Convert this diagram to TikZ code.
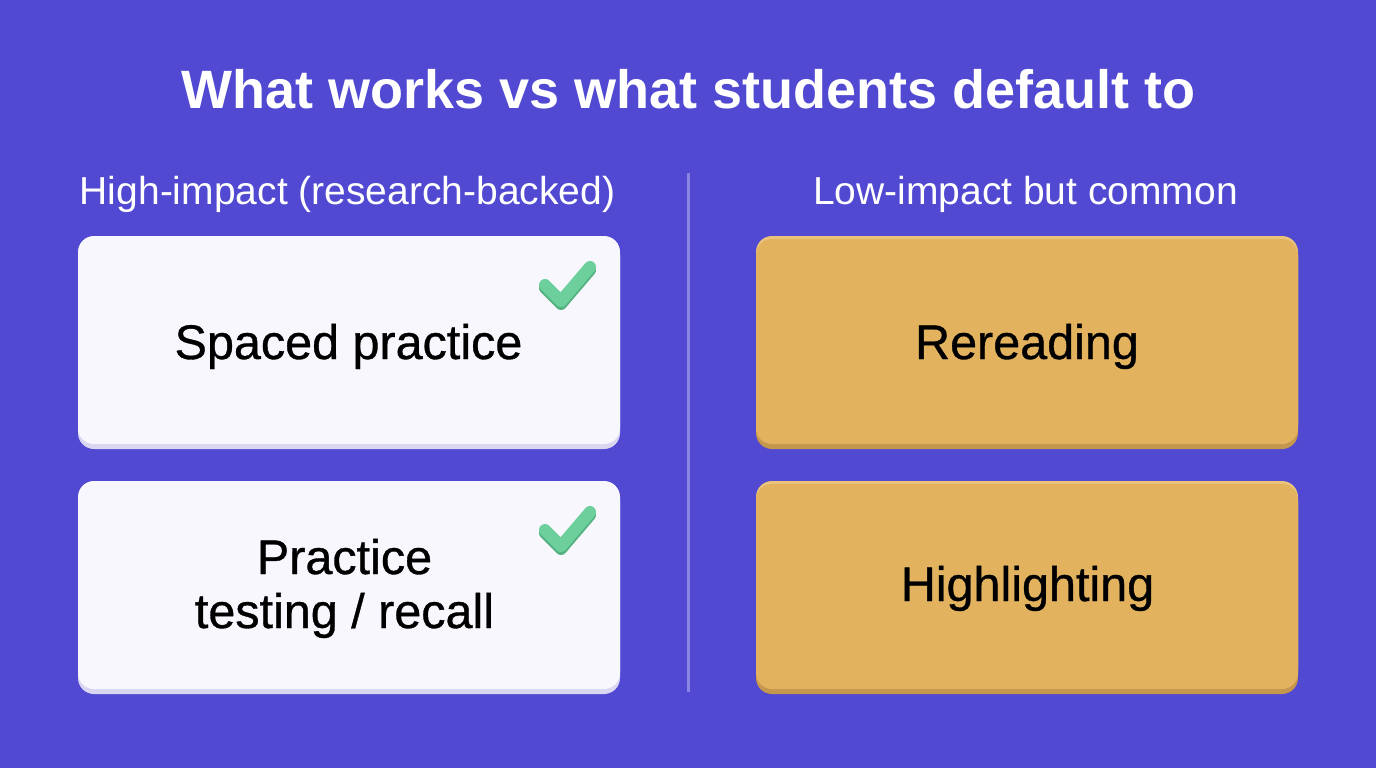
\documentclass[tikz,border=0pt]{standalone}
\usepackage{fontspec}
\setmainfont{Liberation Sans}
\newfontfamily\cardfont[FakeBold=0.7]{Liberation Sans}
\definecolor{bg}{HTML}{5149D1}
\definecolor{cardw}{HTML}{F8F7FD}
\definecolor{cardwsh}{HTML}{D9D6F1}
\definecolor{cardo}{HTML}{E2B25E}
\definecolor{cardosh}{HTML}{C4964E}
\definecolor{cardohl}{HTML}{EAC27B}
\definecolor{divc}{HTML}{8A84E3}
\definecolor{chk}{HTML}{6DCF9C}
\definecolor{chksh}{HTML}{55B382}
\begin{document}
\begin{tikzpicture}[x=1pt,y=-1pt,
  titletext/.style={text=white,font=\fontsize{54}{64}\selectfont\bfseries,inner sep=0pt,anchor=base},
  subtext/.style={text=white,font=\fontsize{39}{46}\selectfont,inner sep=0pt,anchor=base},
  cardtext/.style={text=black,font=\fontsize{48.5}{58}\cardfont,inner sep=0pt,anchor=base},
  checkmark/.style={draw=chk,line width=12pt,line cap=round,line join=round}]
\fill[bg] (0,0) rectangle (1376,768);
\useasboundingbox (0,0) rectangle (1376,768);
\node[titletext] (title) at (688.5,108) {What works vs what students default to};
\node[subtext] (subl) at (347.5,204) {High-impact (research-backed)};
\node[subtext] (subr) at (1025.5,204) {Low-impact but common};
\draw[divc,line width=3pt] (688,173) coordinate (d1) -- (688,692) coordinate (d2);
% left cards
\fill[cardwsh,rounded corners=16pt] (78,240) rectangle (620,449);
\fill[cardw,rounded corners=16pt] (78,236) rectangle (620,444);
\fill[cardwsh,rounded corners=16pt] (78,485) rectangle (620,694);
\fill[cardw,rounded corners=16pt] (78,481) rectangle (620,689);
% right cards
\fill[cardosh,rounded corners=16pt] (756,240) rectangle (1298,449);
\fill[cardohl,rounded corners=16pt] (756,236) rectangle (1298,440);
\fill[cardo,rounded corners=16pt] (756,239) rectangle (1298,444);
\fill[cardosh,rounded corners=16pt] (756,485) rectangle (1298,694);
\fill[cardohl,rounded corners=16pt] (756,481) rectangle (1298,685);
\fill[cardo,rounded corners=16pt] (756,484) rectangle (1298,689);
\node[cardtext] (c1) at (348.5,359) {Spaced practice};
\node[cardtext] (c2a) at (344.5,574) {Practice};
\node[cardtext] (c2b) at (344.5,628) {testing / recall};
\node[cardtext] (c3) at (1027,359) {Rereading};
\node[cardtext] (c4) at (1027.5,601) {Highlighting};
% checks
\draw[checkmark,draw=chksh] (545,288) -- (561,304) -- (590,270);
\draw[checkmark] (545,285) -- (561,301) -- (590,267);
\draw[checkmark,draw=chksh] (545,533) -- (561,549) -- (590,515);
\draw[checkmark] (545,530) -- (561,546) -- (590,512);
\end{tikzpicture}
\end{document}
